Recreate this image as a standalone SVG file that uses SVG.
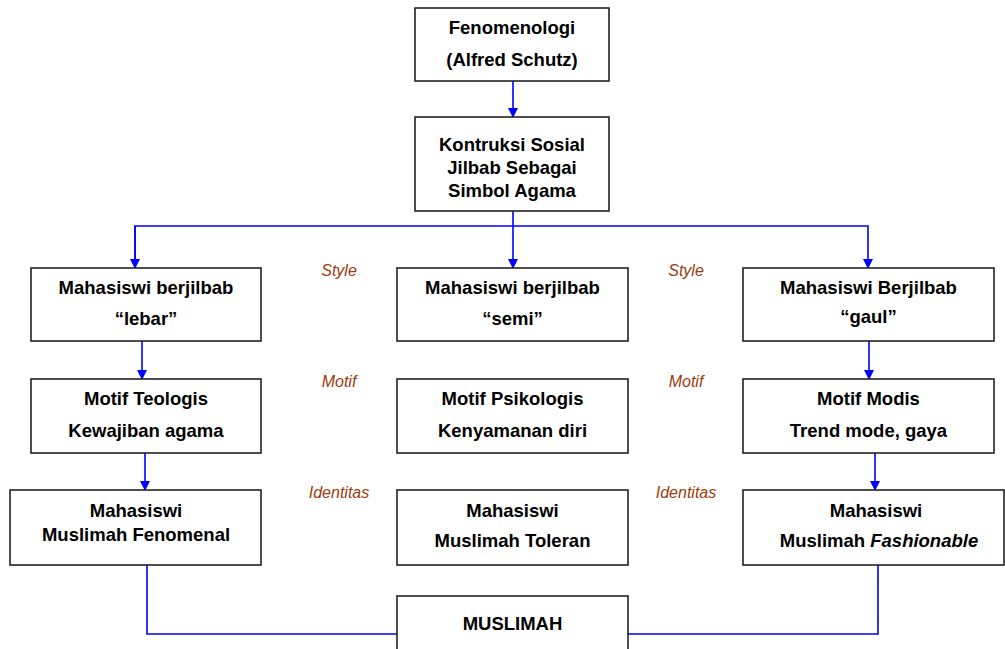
<svg xmlns="http://www.w3.org/2000/svg" width="1005" height="649" viewBox="0 0 1005 649">
<defs>
<marker id="ah" markerWidth="10" markerHeight="10" refX="9" refY="5" orient="auto" markerUnits="userSpaceOnUse">
<path d="M0,0 L10,5 L0,10 Z" fill="#0000ff"/>
</marker>
<style>
.box{fill:#fff;stroke:#222;stroke-width:1.6}
.t{font-family:"Liberation Sans",Arial,sans-serif;font-weight:bold;font-size:18.5px;fill:#000;text-anchor:middle}
.lbl{font-family:"Liberation Sans",Arial,sans-serif;font-style:italic;font-size:16px;fill:#9c3a0c;text-anchor:middle}
.c{fill:none;stroke:#0000ff;stroke-width:1.6}
</style>
</defs>
<rect width="1005" height="649" fill="#fff"/>
<g id="connectors">
<line class="c" x1="513" y1="81" x2="513" y2="117" marker-end="url(#ah)"/>
<line class="c" x1="513" y1="211" x2="513" y2="268" marker-end="url(#ah)"/>
<polyline class="c" points="135,268 135,226 868,226 868,268" marker-end="url(#ah)"/>
<line class="c" x1="135" y1="226" x2="135" y2="268" marker-end="url(#ah)"/>
<line class="c" x1="142" y1="341" x2="142" y2="379" marker-end="url(#ah)"/>
<line class="c" x1="869" y1="341" x2="869" y2="379" marker-end="url(#ah)"/>
<line class="c" x1="145" y1="453" x2="145" y2="490" marker-end="url(#ah)"/>
<line class="c" x1="875" y1="453" x2="875" y2="490" marker-end="url(#ah)"/>
<polyline class="c" points="147,565 147,634 397,634"/>
<polyline class="c" points="878,559 878,634 628,634"/>
</g>
<g id="n-fenomenologi">
<rect class="box" x="415" y="8" width="194" height="73"/>
<text class="t" x="512" y="34">Fenomenologi</text>
<text class="t" x="512" y="66">(Alfred Schutz)</text>
</g>
<g id="n-konstruksi">
<rect class="box" x="415" y="117" width="194" height="94"/>
<text class="t" x="512" y="151">Kontruksi Sosial</text>
<text class="t" x="512" y="174">Jilbab Sebagai</text>
<text class="t" x="512" y="197">Simbol Agama</text>
</g>
<g id="n-lebar">
<rect class="box" x="31" y="268" width="230" height="73"/>
<text class="t" x="146" y="294">Mahasiswi berjilbab</text>
<text class="t" x="146" y="325">“lebar”</text>
</g>
<g id="n-semi">
<rect class="box" x="397" y="268" width="231" height="73"/>
<text class="t" x="512.5" y="294">Mahasiswi berjilbab</text>
<text class="t" x="512.5" y="325">“semi”</text>
</g>
<g id="n-gaul">
<rect class="box" x="743" y="268" width="251" height="73"/>
<text class="t" x="868.5" y="294">Mahasiswi Berjilbab</text>
<text class="t" x="868.5" y="323">“gaul”</text>
</g>
<g id="n-teologis">
<rect class="box" x="31" y="379" width="230" height="74"/>
<text class="t" x="146" y="405">Motif Teologis</text>
<text class="t" x="146" y="437">Kewajiban agama</text>
</g>
<g id="n-psikologis">
<rect class="box" x="397" y="379" width="231" height="74"/>
<text class="t" x="512.5" y="405">Motif Psikologis</text>
<text class="t" x="512.5" y="437">Kenyamanan diri</text>
</g>
<g id="n-modis">
<rect class="box" x="743" y="379" width="251" height="74"/>
<text class="t" x="868.5" y="405">Motif Modis</text>
<text class="t" x="868.5" y="437">Trend mode, gaya</text>
</g>
<g id="n-fenomenal">
<rect class="box" x="10" y="490" width="251" height="75"/>
<text class="t" x="136" y="517">Mahasiswi</text>
<text class="t" x="136" y="541">Muslimah Fenomenal</text>
</g>
<g id="n-toleran">
<rect class="box" x="397" y="490" width="231" height="75"/>
<text class="t" x="512.5" y="517">Mahasiswi</text>
<text class="t" x="512.5" y="547">Muslimah Toleran</text>
</g>
<g id="n-fashionable">
<rect class="box" x="743" y="490" width="261" height="75"/>
<text class="t" x="876" y="517">Mahasiswi</text>
<text class="t" x="879" y="547">Muslimah <tspan font-style="italic">Fashionable</tspan></text>
</g>
<g id="n-muslimah">
<rect class="box" x="397" y="596" width="231" height="60"/>
<text class="t" x="512.5" y="630">MUSLIMAH</text>
</g>
<g id="labels">
<text class="lbl" x="339" y="276">Style</text>
<text class="lbl" x="339" y="387">Motif</text>
<text class="lbl" x="339" y="498">Identitas</text>
<text class="lbl" x="686" y="276">Style</text>
<text class="lbl" x="686" y="387">Motif</text>
<text class="lbl" x="686" y="498">Identitas</text>
</g>
</svg>
